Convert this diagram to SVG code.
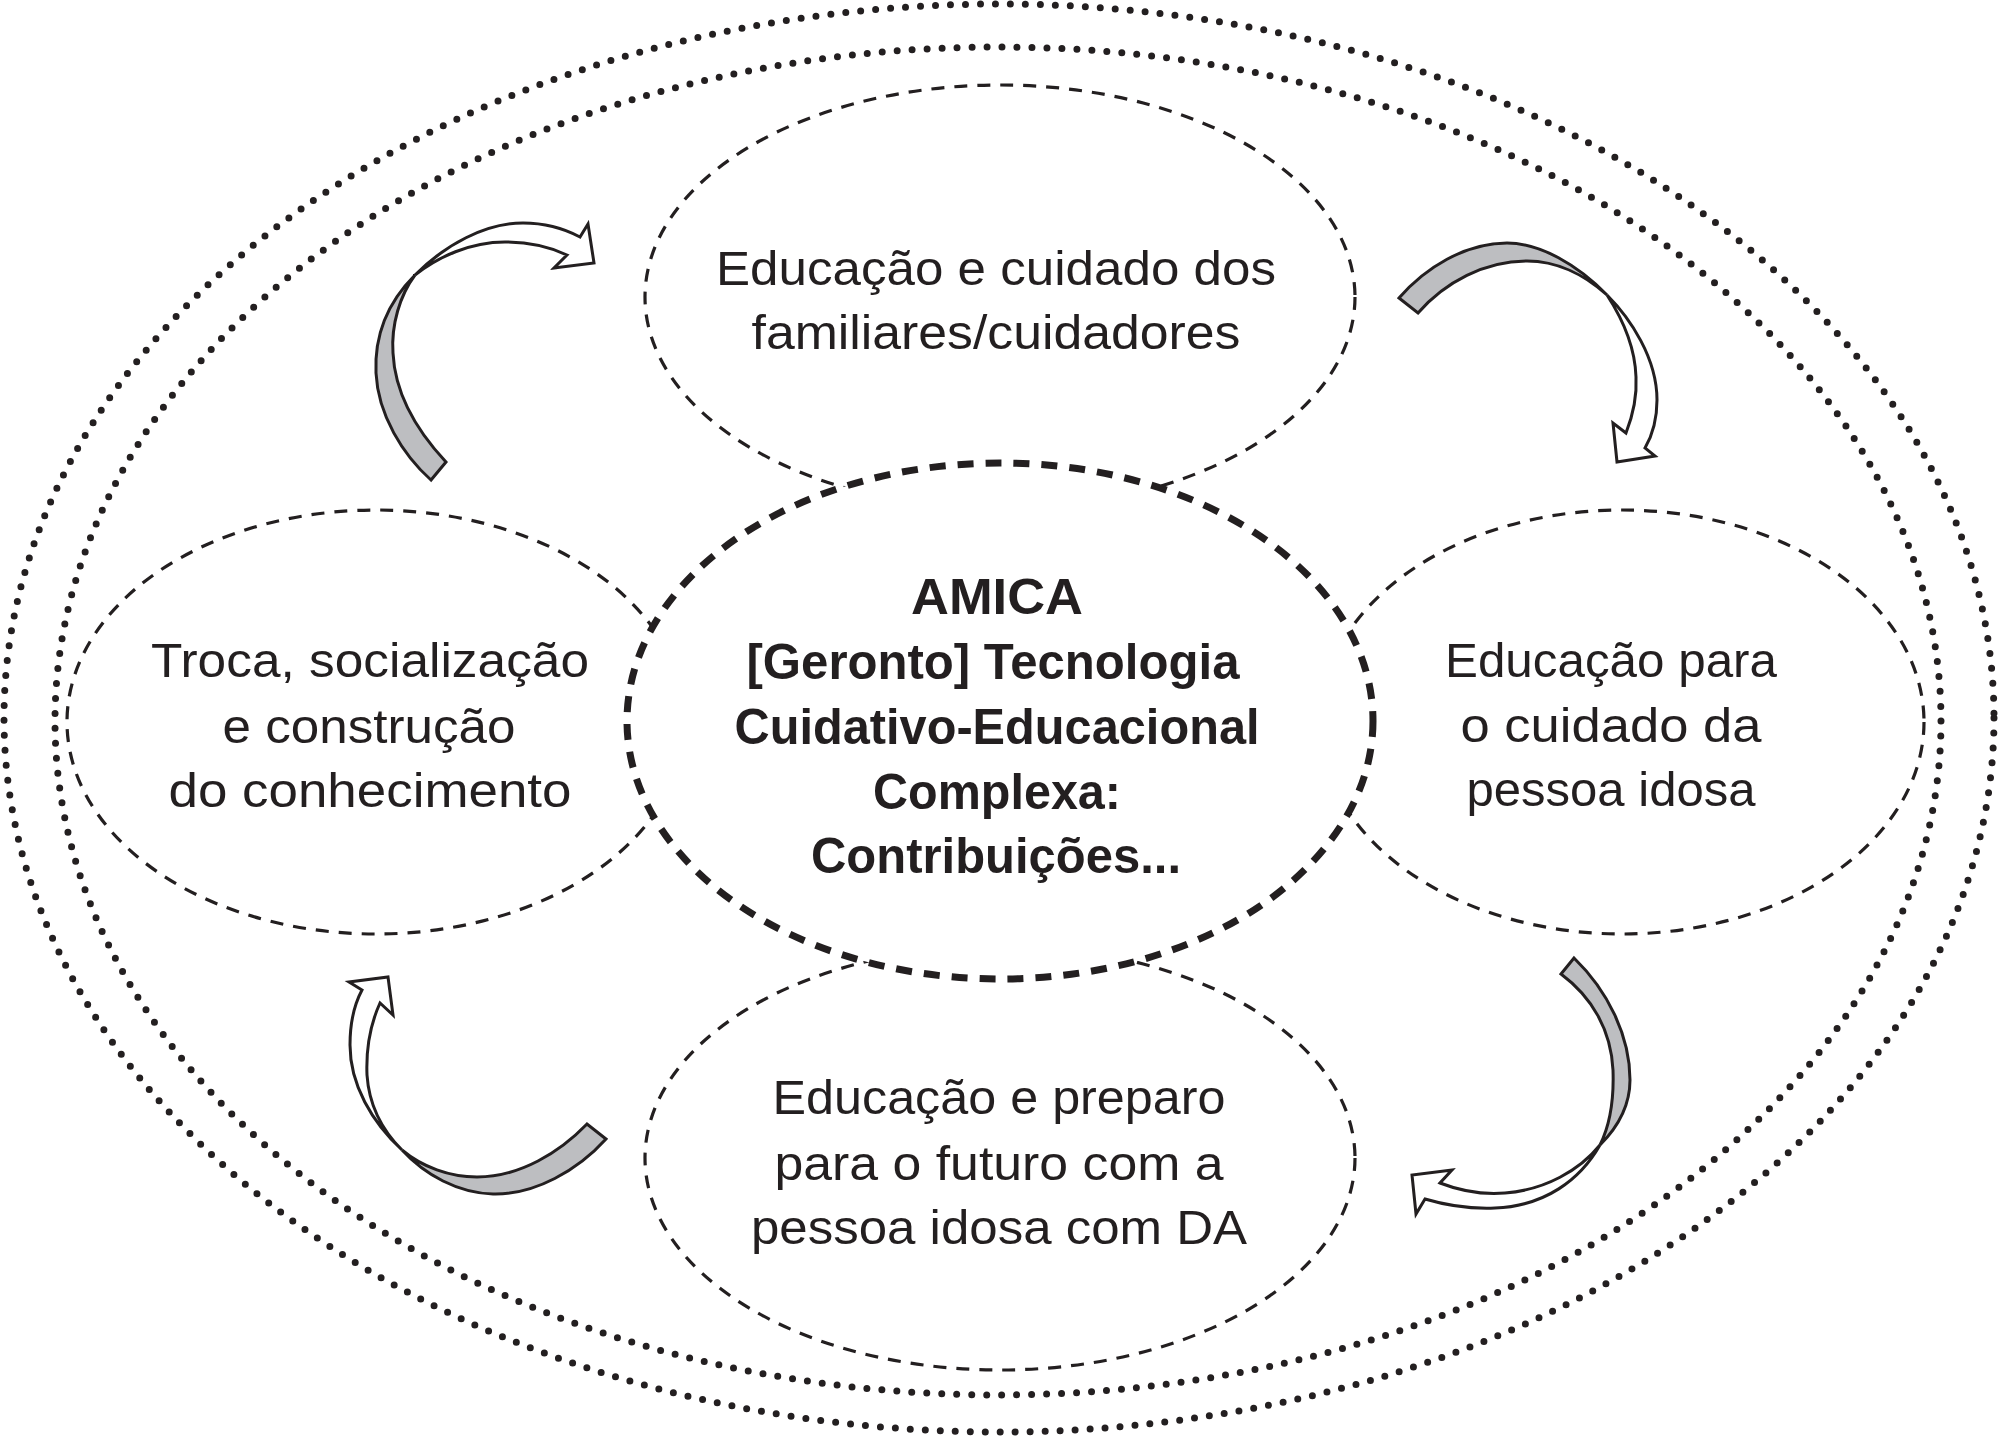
<svg xmlns="http://www.w3.org/2000/svg" width="2000" height="1436" viewBox="0 0 2000 1436">
<style>
.dot{fill:none;stroke:#231f20;stroke-width:7;stroke-linecap:round;stroke-dasharray:0 15}
.thin{fill:none;stroke:#231f20;stroke-width:3.2;stroke-dasharray:13 10}
.core{fill:#fff;stroke:#231f20;stroke-width:7;stroke-dasharray:16 12}
.lbl{font-family:"Liberation Sans",Arial,sans-serif;font-size:49px;fill:#231f20;text-anchor:middle}
.bold{font-weight:bold;font-size:50px}
.gr{fill:#bdbec1;stroke:#231f20;stroke-width:3;stroke-linejoin:miter}
.wh{fill:#fff;stroke:#231f20;stroke-width:3;stroke-linejoin:miter}
</style>
<rect width="2000" height="1436" fill="#fff"/>
<g id="rings">
<ellipse class="dot" cx="999" cy="718" rx="995" ry="714"/>
<ellipse class="dot" cx="998" cy="721" rx="943" ry="674"/>
</g>
<g id="node-top">
<ellipse class="thin" cx="1000" cy="297" rx="355" ry="212"/>
<text class="lbl" x="996" y="285" textLength="560" lengthAdjust="spacingAndGlyphs">Educação e cuidado dos</text>
<text class="lbl" x="996" y="349" textLength="489" lengthAdjust="spacingAndGlyphs">familiares/cuidadores</text>
</g>
<g id="node-right">
<ellipse class="thin" cx="1622" cy="722" rx="302" ry="212"/>
<text class="lbl" x="1611" y="677" textLength="332" lengthAdjust="spacingAndGlyphs">Educação para</text>
<text class="lbl" x="1611" y="742" textLength="301" lengthAdjust="spacingAndGlyphs">o cuidado da</text>
<text class="lbl" x="1611" y="806" textLength="289" lengthAdjust="spacingAndGlyphs">pessoa idosa</text>
</g>
<g id="node-bottom">
<ellipse class="thin" cx="1000" cy="1158" rx="355" ry="212"/>
<text class="lbl" x="999" y="1114" textLength="453" lengthAdjust="spacingAndGlyphs">Educação e preparo</text>
<text class="lbl" x="999" y="1180" textLength="449" lengthAdjust="spacingAndGlyphs">para o futuro com a</text>
<text class="lbl" x="999" y="1244" textLength="496" lengthAdjust="spacingAndGlyphs">pessoa idosa com DA</text>
</g>
<g id="node-left">
<ellipse class="thin" cx="376" cy="722" rx="309" ry="212"/>
<text class="lbl" x="370" y="677" textLength="438" lengthAdjust="spacingAndGlyphs">Troca, socialização</text>
<text class="lbl" x="369" y="743" textLength="293" lengthAdjust="spacingAndGlyphs">e construção</text>
<text class="lbl" x="370" y="807" textLength="403" lengthAdjust="spacingAndGlyphs">do conhecimento</text>
</g>
<g id="node-center">
<ellipse class="core" cx="1000" cy="721" rx="373" ry="258"/>
<text class="lbl bold" x="997" y="614" textLength="172" lengthAdjust="spacingAndGlyphs">AMICA</text>
<text class="lbl bold" x="993" y="679" textLength="493" lengthAdjust="spacingAndGlyphs">[Geronto] Tecnologia</text>
<text class="lbl bold" x="997" y="744" textLength="525" lengthAdjust="spacingAndGlyphs">Cuidativo-Educacional</text>
<text class="lbl bold" x="997" y="809" textLength="248" lengthAdjust="spacingAndGlyphs">Complexa:</text>
<text class="lbl bold" x="996" y="873" textLength="370" lengthAdjust="spacingAndGlyphs">Contribuições...</text>
</g>
<g id="connectors">
<g id="arrow-tl">
<path class="gr" d="M431,480 C403,455 378,415 376,373 C374,330 392,298 415,275 C400,295 391,325 393,353 C395,395 418,432 446,462 Z"/>
<path class="wh" d="M415,275 C445,245 485,223 523,223 C545,223 565,229 580,237 L588,224 L594,263 L554,268 L567,255 C550,247 528,242 505,242 C470,242 438,257 415,275 Z"/>
</g>
<g id="arrow-tr">
<path class="gr" d="M1399,298 C1425,268 1465,243 1507,243 C1540,243 1578,265 1607,295 C1585,275 1557,261 1527,261 C1485,261 1445,282 1418,313 Z"/>
<path class="wh" d="M1607,295 C1630,318 1657,358 1657,400 C1657,420 1652,436 1645,448 L1655,456 L1617,462 L1613,423 L1626,433 C1633,415 1637,395 1636,377 C1635,345 1622,318 1607,295 Z"/>
</g>
<g id="arrow-br">
<path class="gr" d="M1574,958 C1607,990 1630,1035 1630,1080 C1630,1105 1618,1127 1600,1145 C1610,1125 1614,1098 1613,1070 C1611,1030 1592,997 1561,974 Z"/>
<path class="wh" d="M1600,1145 C1580,1170 1545,1190 1505,1193 C1480,1195 1458,1190 1440,1183 L1452,1170 L1412,1175 L1416,1214 L1425,1199 C1445,1205 1470,1209 1495,1208 C1545,1206 1580,1180 1600,1145 Z"/>
</g>
<g id="arrow-bl">
<path class="gr" d="M587,1124 C560,1152 520,1177 477,1177 C450,1177 422,1167 402,1150 C425,1175 458,1193 493,1194 C535,1195 578,1170 606,1139 Z"/>
<path class="wh" d="M402,1150 C372,1122 350,1085 350,1045 C350,1025 354,1005 362,990 L349,982 L388,977 L393,1015 L380,1003 C370,1025 366,1050 367,1075 C369,1105 382,1130 402,1150 Z"/>
</g>
</g>
</svg>
